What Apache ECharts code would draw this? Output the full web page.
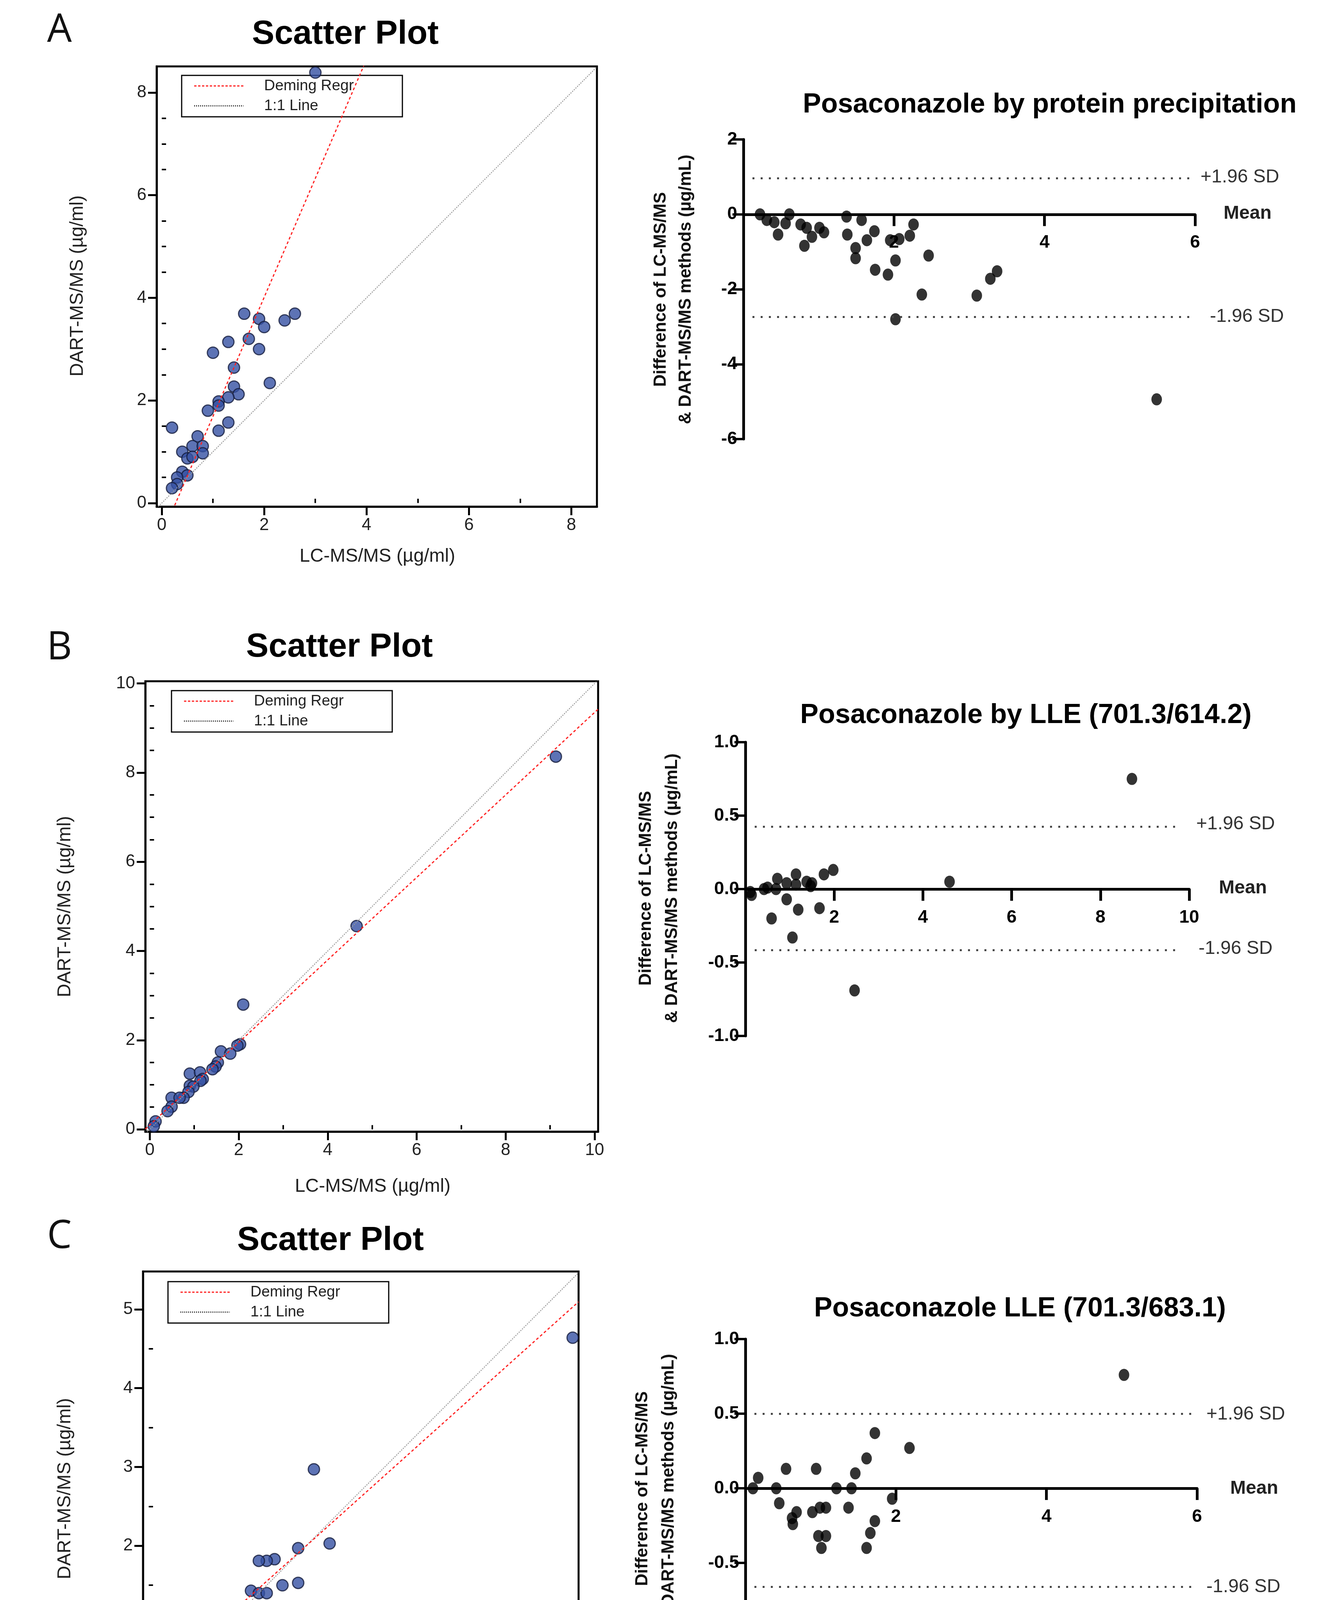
<!DOCTYPE html>
<html><head><meta charset="utf-8">
<script src="https://cdn.jsdelivr.net/npm/echarts@6/dist/echarts.min.js"></script>
<style>html,body{margin:0;padding:0;background:#fff}#c{width:3407px;height:4544px}</style>
</head><body><div id="c"></div>
<script>
// ---------- DATA ----------
const scatterA = [[3.0,8.39],[1.61,3.69],[1.90,3.59],[2.0,3.43],[2.40,3.56],[2.60,3.69],[1.70,3.2],[1.30,3.14],[1.0,2.93],[1.90,3.0],[1.41,2.64],[2.11,2.34],[1.41,2.27],[1.50,2.12],[1.30,2.06],[1.11,1.98],[1.11,1.9],[0.90,1.80],[1.30,1.57],[1.11,1.41],[0.20,1.47],[0.70,1.30],[0.60,1.11],[0.80,1.11],[0.40,1.0],[0.50,0.87],[0.60,0.9],[0.80,0.97],[0.40,0.61],[0.50,0.54],[0.30,0.5],[0.30,0.37],[0.20,0.29]];
const scatterB = [[9.13,8.36],[4.65,4.56],[2.10,2.80],[2.03,1.91],[1.97,1.88],[1.60,1.75],[1.81,1.70],[1.53,1.50],[1.48,1.41],[1.41,1.35],[0.90,1.25],[1.13,1.28],[1.19,1.13],[1.14,1.09],[0.90,0.98],[0.98,0.96],[0.87,0.84],[0.49,0.71],[0.76,0.71],[0.67,0.71],[0.49,0.51],[0.40,0.41],[0.13,0.18],[0.09,0.07]];
const scatterC = [[5.39,4.64],[2.10,2.97],[2.30,2.03],[1.90,1.97],[1.60,1.83],[1.50,1.81],[1.40,1.81],[1.70,1.50],[1.90,1.53],[1.30,1.43],[1.40,1.40],[1.50,1.40],[1.20,1.20],[0.90,1.23],[0.80,1.20],[0.80,1.13],[1.00,1.13],[0.90,1.03],[0.80,0.97],[1.00,0.87],[0.60,0.77],[0.50,0.72],[0.50,0.70],[0.40,0.51],[0.40,0.40],[0.60,0.47],[0.10,0.10],[0.21,0.13]];
const demingA = {slope:2.32, intercept:-0.63};
const demingB = {slope:0.925, intercept:0.1};
const demingC = {slope:0.894, intercept:0.21};
const baA = [[0.22,0.0],[0.31,-0.15],[0.41,-0.21],[0.61,0.0],[0.56,-0.24],[0.46,-0.54],[0.76,-0.27],[0.84,-0.36],[0.81,-0.84],[0.91,-0.6],[1.07,-0.48],[1.01,-0.36],[1.37,-0.06],[1.38,-0.54],[1.57,-0.15],[1.74,-0.45],[1.64,-0.69],[1.49,-0.9],[1.49,-1.17],[1.95,-0.69],[2.07,-0.66],[2.21,-0.57],[2.26,-0.27],[2.02,-1.23],[1.75,-1.48],[1.92,-1.61],[2.46,-1.10],[2.37,-2.14],[2.02,-2.80],[3.10,-2.17],[3.28,-1.72],[3.37,-1.52],[5.49,-4.94]];
const baB = [[0.11,-0.02],[0.14,-0.04],[0.42,0.0],[0.50,0.01],[0.72,0.07],[0.69,0.0],[0.93,0.04],[1.14,0.10],[1.14,0.03],[1.38,0.05],[1.50,0.04],[1.47,0.02],[1.77,0.10],[1.98,0.13],[0.93,-0.07],[1.19,-0.14],[1.67,-0.13],[0.59,-0.20],[1.06,-0.33],[2.46,-0.69],[4.6,0.05],[8.71,0.75]];
const baC = [[5.03,0.76],[1.72,0.37],[2.18,0.27],[1.61,0.20],[1.46,0.10],[0.54,0.13],[0.94,0.13],[0.17,0.07],[0.10,0.0],[0.41,0.0],[1.21,0.0],[1.41,0.0],[1.95,-0.07],[0.45,-0.10],[1.37,-0.13],[0.68,-0.16],[0.62,-0.20],[0.63,-0.24],[0.89,-0.16],[0.99,-0.13],[1.07,-0.13],[1.72,-0.22],[1.66,-0.30],[0.97,-0.32],[1.07,-0.32],[1.01,-0.40],[1.61,-0.40],[2.54,-0.86]];
const sdA = [0.96,-2.74], sdB = [0.425,-0.416], sdC = [0.50,-0.66];
const ticksA = [0,2,4,6,8], ticksB = [0,2,4,6,8,10], ticksC = [0,1,2,3,4,5];
const baTicksAx = [2,4,6], baTicksAy = [-6,-4,-2,0,2];
const baTicksBx = [2,4,6,8,10], baTicksBy = [-1,-0.5,0,0.5,1];
const baTicksCx = [2,4,6], baTicksCy = [-1,-0.5,0,0.5,1];

// ---------- LAYOUT ----------
const F = 'Liberation Sans, Arial, sans-serif';
const FN = 'Liberation Sans Narrow, Liberation Sans, Arial, sans-serif';
const chart = echarts.init(document.getElementById('c'), null, {renderer:'canvas', width:3407, height:4544});

const sc = [
 {grid:{left:401,top:170,width:1127,height:1127}, x:[-0.1,8.5], y:[-0.07,8.51], ticks:ticksA, minor:[1,3,5,7], yminor:[0.5,1,1.5,2.5,3,3.5,4.5,5,5.5,6.5,7,7.5], data:scatterA, dem:demingA},
 {grid:{left:372,top:1744,width:1159,height:1153}, x:[-0.1,10.08], y:[-0.05,10.05], ticks:ticksB, minor:[1,3,5,7,9], yminor:[0.5,1,1.5,2.5,3,3.5,4.5,5,5.5,6.5,7,7.5,8.5,9,9.5], data:scatterB, dem:demingB},
 {grid:{left:366,top:3255,width:1115,height:1112}, x:[-0.073,5.465], y:[-0.03,5.48], ticks:ticksC, minor:[0.5,1.5,2.5,3.5,4.5], yminor:[0.5,1.5,2.5,3.5,4.5], data:scatterC, dem:demingC}
];
const ba = [
 {grid:{left:1903,top:357,width:1156,height:767}, x:[0,6], y:[-6,2], xt:baTicksAx, yt:baTicksAy, data:baA, sd:sdA, sdx:[0.12,5.93], dec:0},
 {grid:{left:1908,top:1900,width:1136,height:752}, x:[0,10], y:[-1,1], xt:baTicksBx, yt:baTicksBy, data:baB, sd:sdB, sdx:[0.21,9.82], dec:1},
 {grid:{left:1908,top:3428,width:1156,height:764}, x:[0,6], y:[-1,1], xt:baTicksCx, yt:baTicksCy, data:baC, sd:sdC, sdx:[0.12,5.94], dec:1}
];

const grids=[], xAxes=[], yAxes=[], series=[];
sc.forEach((p,i)=>{
  const gi = grids.length;
  grids.push(Object.assign({show:true,borderColor:'#000',borderWidth:5}, p.grid));
  const xi = xAxes.length, yi = yAxes.length;
  xAxes.push({gridIndex:gi,type:'value',min:p.x[0],max:p.x[1],splitLine:{show:false},
    axisLine:{onZero:false,lineStyle:{color:'#000',width:5}},
    axisTick:{customValues:p.ticks,length:22,lineStyle:{color:'#000',width:5}},
    axisLabel:{customValues:p.ticks,fontFamily:F,fontSize:44,color:'#222',margin:26}});
  xAxes.push({gridIndex:gi,type:'value',min:p.x[0],max:p.x[1],splitLine:{show:false},
    axisLine:{show:false},axisLabel:{show:false},
    axisTick:{customValues:p.minor,length:11,lineStyle:{color:'#000',width:4}}});
  yAxes.push({gridIndex:gi,type:'value',min:p.y[0],max:p.y[1],splitLine:{show:false},
    axisLine:{onZero:false,lineStyle:{color:'#000',width:5}},
    axisTick:{customValues:p.ticks,length:22,lineStyle:{color:'#000',width:5}},
    axisLabel:{customValues:p.ticks,fontFamily:F,fontSize:44,color:'#222',margin:26}});
  yAxes.push({gridIndex:gi,type:'value',min:p.y[0],max:p.y[1],splitLine:{show:false},
    axisLine:{show:false},axisLabel:{show:false},
    axisTick:{customValues:p.yminor,length:11,lineStyle:{color:'#000',width:4}}});
  series.push({type:'line',xAxisIndex:xi,yAxisIndex:yi,showSymbol:false,silent:true,clip:true,
    data:[[p.x[0],p.x[0]],[p.x[1],p.x[1]]],lineStyle:{color:'#9a9a9a',width:2.5,type:[3,3]}});
  series.push({type:'line',xAxisIndex:xi,yAxisIndex:yi,showSymbol:false,silent:true,clip:true,
    data:[p.x[0],p.x[1]].map(x=>[x,p.dem.slope*x+p.dem.intercept]),lineStyle:{color:'#ff2020',width:3,type:[7,6]}});
  series.push({type:'scatter',xAxisIndex:xi,yAxisIndex:yi,data:p.data,symbolSize:29,clip:false,
    itemStyle:{color:'#3450a3',borderColor:'#141b3c',borderWidth:3}});
});
ba.forEach((p,i)=>{
  const gi = grids.length;
  grids.push(p.grid);
  const xi = xAxes.length, yi = yAxes.length;
  const zeroOff = -p.grid.height * (0 - p.y[0]) / (p.y[1] - p.y[0]);
  xAxes.push({gridIndex:gi,type:'value',min:p.x[0],max:p.x[1],splitLine:{show:false},offset:zeroOff,
    axisLine:{onZero:false,lineStyle:{color:'#000',width:7}},
    axisTick:{show:true,inside:false,customValues:p.xt,length:30,lineStyle:{color:'#000',width:7}},
    axisLabel:{customValues:p.xt,fontFamily:FN,fontWeight:'bold',fontSize:46,color:'#000',margin:50}});
  yAxes.push({gridIndex:gi,type:'value',min:p.y[0],max:p.y[1],splitLine:{show:false},
    axisLine:{onZero:false,lineStyle:{color:'#000',width:7}},
    axisTick:{customValues:p.yt,length:28,lineStyle:{color:'#000',width:6}},
    axisLabel:{customValues:p.yt,fontFamily:FN,fontWeight:'bold',fontSize:46,color:'#000',margin:16,
      formatter:v=>Number(v).toFixed(p.dec)}});
  series.push({type:'scatter',xAxisIndex:xi,yAxisIndex:yi,data:p.data,symbol:'circle',symbolSize:[27,31],clip:false,
    itemStyle:{color:'#000'},
    markLine:{silent:true,symbol:'none',label:{show:false},lineStyle:{color:'#444',width:5,type:[5,16]},
      data:p.sd.map(v=>[{coord:[p.sdx[0],v]},{coord:[p.sdx[1],v]}])}});
});

// ---------- TEXT ----------
const g = [];
function txt(x,y,t,o){g.push({type:'text',x:x,y:y,style:Object.assign({text:t,fontFamily:F,fontSize:44,fill:'#000',textAlign:'center',textVerticalAlign:'middle'},o||{})});}
function rtxt(x,y,t,o){g.push({type:'text',x:x,y:y,rotation:Math.PI/2,style:Object.assign({text:t,fontFamily:F,fontSize:48,fill:'#222',textAlign:'center',textVerticalAlign:'middle'},o||{})});}
[['A',152,79],['B',152,1660],['C',152,3167]].forEach(a=>txt(a[1],a[2],a[0],{fontFamily:'Open Sans, Noto Sans, sans-serif',fontSize:100,fill:'#111'}));
[[884,88],[869,1657],[846,3176]].forEach(a=>txt(a[0],a[1],'Scatter Plot',{fontSize:86,fontWeight:'bold'}));
[[199,732],[167,2321],[167,3811]].forEach(a=>rtxt(a[0],a[1],'DART-MS/MS (µg/ml)'));
[[966,1425],[954,3038],[925,4499]].forEach(a=>txt(a[0],a[1],'LC-MS/MS (µg/ml)',{fontSize:48,fill:'#222'}));
[[465,193],[439,1768],[430,3281]].forEach(a=>{
  const [bx,by]=a;
  g.push({type:'rect',shape:{x:bx,y:by,width:565,height:106},style:{fill:'#fff',stroke:'#000',lineWidth:3}});
  g.push({type:'line',shape:{x1:bx+32,y1:by+27,x2:bx+158,y2:by+27},style:{stroke:'#ff2020',lineWidth:3,lineDash:[6,4]}});
  g.push({type:'line',shape:{x1:bx+32,y1:by+78,x2:bx+158,y2:by+78},style:{stroke:'#000',lineWidth:3,lineDash:[2,3]}});
  txt(bx+211,by+27,'Deming Regr',{textAlign:'left',fontSize:39,fill:'#222'});
  txt(bx+211,by+78,'1:1 Line',{textAlign:'left',fontSize:39,fill:'#222'});
});
txt(2687,269,'Posaconazole by protein precipitation',{fontSize:70,fontWeight:'bold'});
txt(2626,1832,'Posaconazole by LLE (701.3/614.2)',{fontSize:70,fontWeight:'bold'});
txt(2611,3351,'Posaconazole LLE (701.3/683.1)',{fontSize:70,fontWeight:'bold'});
[[1692,1756,741],[1654,1721,2274],[1645,1712,3811]].forEach(a=>{
  rtxt(a[0],a[2],'Difference of LC-MS/MS',{fontWeight:'bold',fontSize:44,fill:'#111',fontFamily:FN});
  rtxt(a[1],a[2],'& DART-MS/MS methods (µg/mL)',{fontWeight:'bold',fontSize:44,fill:'#111',fontFamily:FN});
});
[[3073,454,3132,547,3097,811],[3062,2110,3120,2274,3068,2429],[3088,3621,3149,3811,3088,4063]].forEach(a=>{
  txt(a[0],a[1],'+1.96 SD',{textAlign:'left',fontFamily:FN,fontSize:48,fill:'#333'});
  txt(a[2],a[3],'Mean',{textAlign:'left',fontFamily:FN,fontSize:48,fontWeight:'bold',fill:'#222'});
  txt(a[4],a[5],'-1.96 SD',{textAlign:'left',fontFamily:FN,fontSize:48,fill:'#333'});
});

chart.setOption({backgroundColor:'#fff',animation:false,grid:grids,xAxis:xAxes,yAxis:yAxes,series:series,graphic:g});
</script></body></html>
